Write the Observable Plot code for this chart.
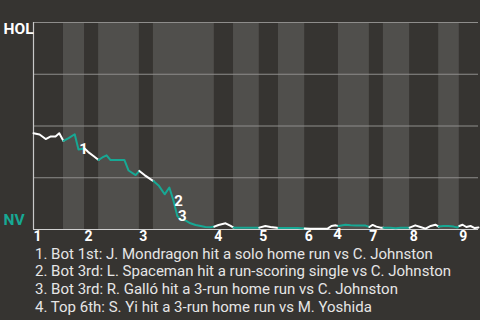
<!DOCTYPE html>
<html>
<head>
<meta charset="utf-8">
<script src="https://cdn.jsdelivr.net/npm/d3@7"></script>
<script src="https://cdn.jsdelivr.net/npm/@observablehq/plot@0.6"></script>
<style>
  html, body { margin: 0; padding: 0; background: #363431; width: 480px; height: 320px; overflow: hidden; }
  #chart svg { display: block; }
  #caption { font-family: Roboto, sans-serif; font-size: 15px; color: #e6e6e6; padding-left: 35px; white-space: nowrap; margin-top: 1.5px; }
  #caption div { line-height: 15px; margin-bottom: 2.8px; }
</style>
</head>
<body>
<div id="chart"></div>
<div id="caption"></div>
<script>
// Half-inning boundaries (play units), top 1st ... top 9th
const halfEdges = [0, 6.4, 10.9, 13.9, 22.6, 25.6, 38.6, 42.7, 48.2, 52.3, 57.9, 65.1, 71.7, 74.7, 80.3, 86.5, 90.9, 95];
const inningLabels = ["1", "2", "3", "4", "5", "6", "7", "8", "9"];

// Win probability (HOL) by play
const playX = [
  0, 1.3, 2.6, 3.6, 4.7, 5.5, 6.4,
  7.5, 8.8, 9.6, 10.9,
  11.7, 12.8, 13.9,
  14.7, 15.6, 16.4, 17.5, 18.6, 19.4, 20.3, 21.8, 22.6,
  23.7, 24.8, 25.6,
  26.7, 28.0, 29.0, 29.9, 30.7, 31.4, 32.5, 33.5, 34.6, 35.7, 36.7, 37.8, 38.6,
  39.5, 41.0, 42.1, 42.7,
  44.2, 45.5, 46.8, 48.2,
  49.5, 50.6, 51.5, 52.3,
  53.6, 54.9, 56.4, 57.9,
  59.1, 60.4, 61.7, 62.8, 63.6, 64.5, 65.1,
  66.6, 67.7, 68.8, 69.8, 70.9, 71.7,
  72.4, 73.2, 74.1, 74.7,
  76.2, 77.3, 78.4, 79.4, 80.3,
  81.5, 82.6, 83.7, 84.8, 85.8, 86.5,
  87.5, 88.6, 89.7, 90.5, 90.9,
  91.6, 92.4, 93.3, 94.2, 95
];
const winProb = [
  0.465, 0.459, 0.437, 0.449, 0.449, 0.465, 0.428,
  0.441, 0.460, 0.386, 0.391,
  0.374, 0.355, 0.336,
  0.348, 0.358, 0.336, 0.336, 0.336, 0.336, 0.285, 0.263, 0.283,
  0.263, 0.246, 0.234,
  0.213, 0.170, 0.203, 0.138, 0.065, 0.049, 0.043, 0.030, 0.022, 0.017, 0.012, 0.011, 0.014,
  0.022, 0.030, 0.017, 0.009,
  0.009, 0.009, 0.009, 0.009,
  0.017, 0.012, 0.010, 0.007,
  0.007, 0.007, 0.007, 0.005,
  0.004, 0.004, 0.004, 0.004, 0.017, 0.020, 0.017,
  0.023, 0.020, 0.019, 0.019, 0.019, 0.012,
  0.022, 0.014, 0.009, 0.009,
  0.009, 0.006, 0.009, 0.009, 0.009,
  0.020, 0.012, 0.004, 0.017, 0.023, 0.014,
  0.017, 0.017, 0.014, 0.010, 0.017,
  0.023, 0.012, 0.017, 0.007, 0.010
];

// Key events
const eventNum = ["1", "2", "3", "4"];
const eventX = [9.6, 29.9, 30.7, 64.5];
const eventProb = [0.386, 0.138, 0.065, 0.020];
const eventText = [
  "1. Bot 1st: J. Mondragon hit a solo home run vs C. Johnston",
  "2. Bot 3rd: L. Spaceman hit a run-scoring single vs C. Johnston",
  "3. Bot 3rd: R. Galló hit a 3-run home run vs C. Johnston",
  "4. Top 6th: S. Yi hit a 3-run home run vs M. Yoshida"
];

const teal = "#17a894";
const lightBand = "#504f4c";

// build structures
const bands = halfEdges.slice(0, -1).map((e, i) => ({x1: e, x2: halfEdges[i + 1], half: i})).filter(d => d.half % 2 === 1);
const innings = inningLabels.map((t, i) => ({x: halfEdges[2 * i], t}));
const halfOf = x => { for (let k = 1; k < halfEdges.length; k++) if (x <= halfEdges[k]) return k - 1; return halfEdges.length - 2; };
const pts = playX.map((x, i) => ({x, v: winProb[i], half: halfOf(x)}));
const rows = [];
pts.forEach((p, i) => {
  if (i > 0 && pts[i - 1].half !== p.half) rows.push({x: pts[i - 1].x, v: pts[i - 1].v, half: p.half});
  rows.push(p);
});
const events = eventNum.map((n, i) => ({n, x: eventX[i], v: eventProb[i]}));

const chart = Plot.plot({
  width: 480,
  height: 245,
  marginTop: 22,
  marginLeft: 33,
  marginRight: 2,
  marginBottom: 16,
  x: {domain: [0, 95], axis: null},
  y: {domain: [0, 1], axis: null},
  style: {background: "transparent", fontFamily: "Roboto, sans-serif"},
  marks: [
    Plot.rect(bands, {x1: "x1", x2: "x2", fill: lightBand}),
    Plot.ruleY([0.25, 0.5, 0.75, 1], {stroke: "#8e8d8b", strokeWidth: 1.2}),
    Plot.ruleY([0], {stroke: "#d0d0d0", strokeWidth: 1.2}),
    Plot.ruleX([0], {stroke: "#c8c8c8", strokeWidth: 1.2}),
    Plot.line(rows, {x: "x", y: "v", z: "half", stroke: d => d.half % 2 ? teal : "#ffffff", strokeWidth: 2}),
    Plot.text(events.slice(0, 3), {x: "x", y: "v", text: "n", dx: 5, fill: "#ffffff", fontSize: 15, fontWeight: "bold"}),
    Plot.text(events.slice(3), {x: "x", y: "v", text: "n", dx: 2, dy: 9, fill: "#ffffff", fontSize: 15, fontWeight: "bold"}),
    Plot.text(innings, {x: "x", text: "t", frameAnchor: "bottom", lineAnchor: "top", dy: 1.5, dx: 4, fill: "#ffffff", fontSize: 14, fontWeight: "bold"}),
    Plot.text(["HOL"], {frameAnchor: "top-left", text: d => d, textAnchor: "start", lineAnchor: "top", dx: -30, dy: 0, fill: "#ffffff", fontSize: 15.5, fontWeight: "bold"}),
    Plot.text(["NV"], {frameAnchor: "bottom-left", text: d => d, textAnchor: "start", lineAnchor: "bottom", dx: -30, dy: -5, fill: teal, fontSize: 15.5, fontWeight: "bold"})
  ]
});
document.getElementById("chart").appendChild(chart);
document.getElementById("caption").innerHTML = eventText.map(t => `<div>${t}</div>`).join("");
</script>
</body>
</html>
